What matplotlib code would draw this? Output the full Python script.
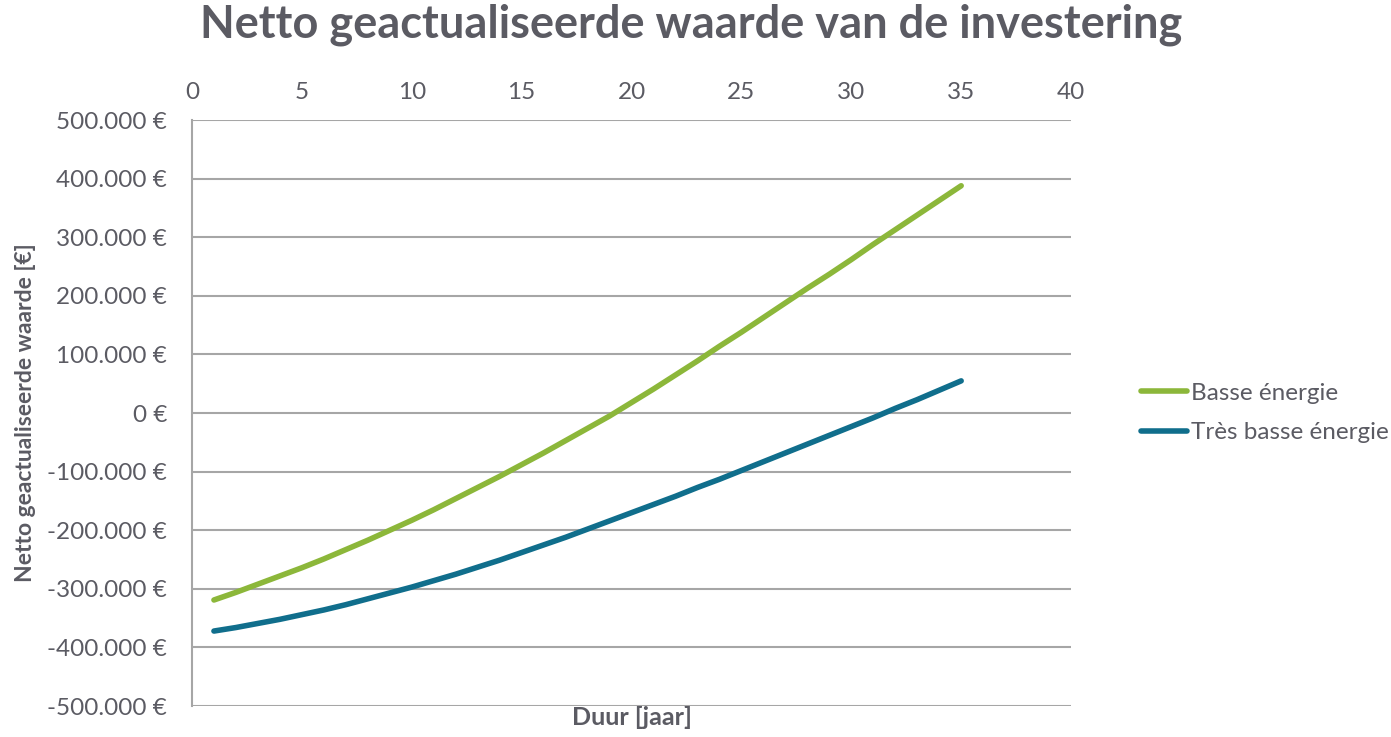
import matplotlib.pyplot as plt
from matplotlib.ticker import FuncFormatter

# values, in euro
years = list(range(1, 36))
basse = [-319000, -306000, -292000, -278000, -264000, -249000, -233000,
         -217000, -200000, -183000, -165000, -146000, -127000, -108000,
         -88000, -68000, -47000, -26000, -5000, 18000, 41000, 65000,
         89000, 114000, 138000, 163000, 188000, 213000, 237000, 262000,
         288000, 313000, 338000, 363000, 388000]
tres_basse = [-372000, -366000, -359000, -352000, -344000, -336000, -327000,
              -317000, -307000, -297000, -286000, -275000, -263000, -251000,
              -238000, -225000, -212000, -198000, -184000, -170000, -156000,
              -142000, -127000, -113000, -98000, -83000, -68000, -53000,
              -38000, -23000, -8000, 8000, 23000, 39000, 55000]
series_names = ['Basse énergie', 'Très basse énergie']
x_ticks = [0, 5, 10, 15, 20, 25, 30, 35, 40]
y_ticks = [-500000, -400000, -300000, -200000, -100000, 0,
           100000, 200000, 300000, 400000, 500000]

TEXT = '#5B5B63'
GRID = '#A6A6A6'
plt.rcParams['font.family'] = ['Lato', 'DejaVu Sans']


def euro(v, pos):
    s = f'{int(round(v)):,}'.replace(',', '.')
    return f'{s} €'


fig = plt.figure(figsize=(13.91, 7.37), dpi=100)
ax = fig.add_axes([0.138, 0.042, 0.632, 0.795])

ax.plot(years, basse, color='#8CB73A', lw=4, solid_capstyle='round',
        label=series_names[0])
ax.plot(years, tres_basse, color='#106E8C', lw=4, solid_capstyle='round',
        label=series_names[1])

ax.set_xlim(0, 40)
ax.set_ylim(-500000, 500000)
ax.set_xticks(x_ticks)
ax.set_yticks(y_ticks)
ax.yaxis.set_major_formatter(FuncFormatter(euro))
ax.xaxis.tick_top()
ax.tick_params(axis='x', length=0, pad=12, labelsize=17.5, labelcolor=TEXT)
ax.tick_params(axis='y', length=0, pad=18, labelsize=17.5, labelcolor=TEXT)

ax.grid(axis='y', color=GRID, lw=1.5)
ax.set_axisbelow(True)
for side in ['top', 'right', 'bottom']:
    ax.spines[side].set_visible(False)
ax.spines['left'].set_color(GRID)
ax.spines['left'].set_linewidth(1.5)

ax.set_xlabel('Duur [jaar]', fontsize=18, fontweight='bold', color=TEXT,
              labelpad=0)
ax.xaxis.set_label_position('bottom')
ax.set_ylabel('Netto geactualiseerde waarde [€]', fontsize=16.5,
              fontweight='bold', color=TEXT, labelpad=8)

fig.suptitle('Netto geactualiseerde waarde van de investering', x=0.497,
             y=0.995, fontsize=32.5, fontweight='bold', color=TEXT)

ax.legend(loc='center left', bbox_to_anchor=(1.055, 0.5), frameon=False,
          fontsize=17.5, labelcolor=TEXT, handlelength=1.9, handletextpad=0.15,
          labelspacing=0.75)

fig.savefig('out.png', dpi=100)
